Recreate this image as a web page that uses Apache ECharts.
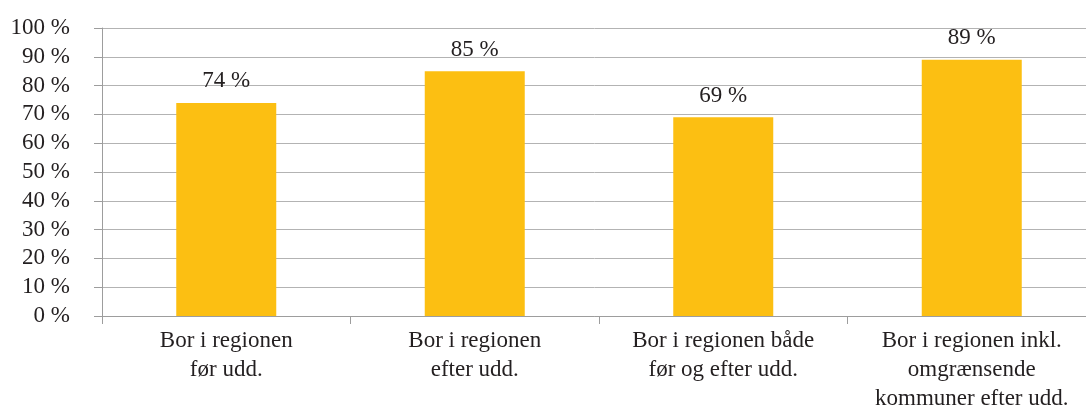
<!DOCTYPE html>
<html>
<head>
<meta charset="utf-8">
<script src="https://cdn.jsdelivr.net/npm/echarts@6/dist/echarts.min.js"></script>
<style>
  html, body { margin: 0; padding: 0; background: #fff; }
  #chart { width: 1086px; height: 407px; }
</style>
</head>
<body>
<div id="chart"></div>
<script>
var categories = [
    'Bor i regionen\nfør udd.',
    'Bor i regionen\nefter udd.',
    'Bor i regionen både\nfør og efter udd.',
    'Bor i regionen inkl.\nomgrænsende\nkommuner efter udd.'
];
var values = [74, 85, 69, 89];

var textColor = '#231f20';
var fontFamily = '"Liberation Serif", "DejaVu Serif", serif';

var myChart = echarts.init(document.getElementById('chart'));
var option = {
    animation: false,
    textStyle: { fontFamily: fontFamily },
    grid: { left: 102, right: -10, top: 28, bottom: 91, outerBoundsMode: 'none', containLabel: false },
    xAxis: {
        type: 'category',
        data: categories,
        axisLine: { lineStyle: { color: '#9d9d9d', width: 1 } },
        axisTick: { show: true, length: 8, lineStyle: { color: '#9d9d9d' } },
        axisLabel: {
            color: textColor,
            fontSize: 23,
            fontFamily: fontFamily,
            lineHeight: 29,
            margin: 10,
            interval: 0
        }
    },
    yAxis: {
        type: 'value',
        min: 0,
        max: 100,
        interval: 10,
        axisLine: { show: true, lineStyle: { color: '#9d9d9d' } },
        axisTick: { show: true, length: 8, lineStyle: { color: '#9d9d9d' } },
        splitLine: { lineStyle: { color: '#b3b3b3', width: 1 } },
        axisLabel: {
            color: textColor,
            fontSize: 23,
            fontFamily: fontFamily,
            margin: 32,
            formatter: '{value} %'
        }
    },
    series: [{
        type: 'bar',
        data: values,
        barWidth: 100,
        itemStyle: { color: '#fcbf12' },
        label: {
            show: true,
            position: 'top',
            distance: 10,
            color: textColor,
            fontSize: 23,
            fontFamily: fontFamily,
            formatter: '{c} %'
        }
    }]
};
myChart.setOption(option);
</script>
</body>
</html>
